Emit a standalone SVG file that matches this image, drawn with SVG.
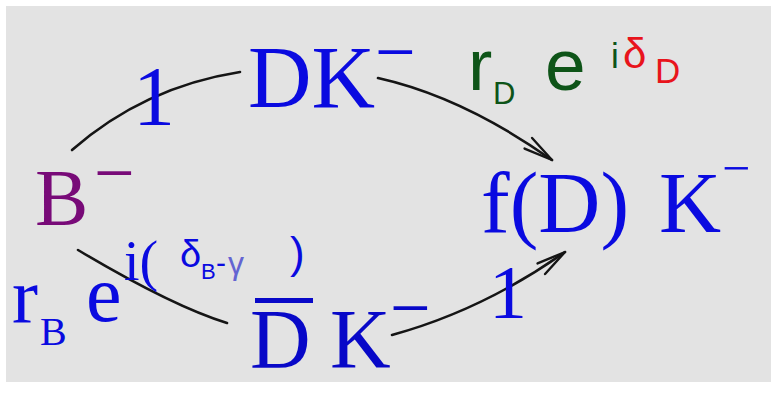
<svg xmlns="http://www.w3.org/2000/svg" width="775" height="402" viewBox="0 0 775 402">
<defs>
<style>
.serif{font-family:"Liberation Serif","Times New Roman",serif}
.sans{font-family:"Liberation Sans",Arial,sans-serif}
.blue{fill:#0a0ae0}
.conn{fill:none;stroke:#151515;stroke-width:2.6;stroke-linecap:round}
.head{fill:none;stroke:#151515;stroke-width:2.4;stroke-linecap:round;stroke-linejoin:round}
</style>
<marker id="arr" markerUnits="userSpaceOnUse" markerWidth="40" markerHeight="24" refX="32" refY="12" orient="auto" overflow="visible">
<path d="M3,5.5 L32,12 L3,18.5" class="head"/>
</marker>
</defs>
<rect x="0" y="0" width="775" height="402" fill="#ffffff"/>
<rect x="6" y="6" width="765" height="376" fill="#e3e3e3"/>

<g id="connectors">
<path class="conn" d="M72,150 Q144,87 240,72"/>
<path class="conn" d="M378,78 Q463,97 552,160" marker-end="url(#arr)"/>
<path class="conn" d="M78,250 Q172,306 227,323"/>
<path class="conn" d="M392,335 Q483,310 565,252" marker-end="url(#arr)"/>
</g>

<g id="node-B">
<text class="serif" x="35" y="225" font-size="80" fill="#780a78">B</text>
<text class="serif" x="94" y="197" font-size="72" fill="#780a78">−</text>
</g>

<g id="node-DK">
<text class="serif blue" x="248" y="107" font-size="88">DK</text>
<text class="serif blue" x="375" y="76" font-size="72">−</text>
</g>

<g id="node-DbarK">
<rect x="255" y="298" width="58" height="5" fill="#0808c8"/>
<text class="serif" x="250" y="368" font-size="84" fill="#0808c8">D</text>
<text class="serif" x="330" y="368" font-size="84" fill="#0808c8">K</text>
<text class="serif" x="390" y="332" font-size="72" fill="#0808c8">−</text>
</g>

<g id="node-fDK">
<text class="serif blue" x="481" y="232" font-size="86">f(D)</text>
<text class="serif blue" x="659" y="232" font-size="86">K</text>
<text class="serif blue" x="722" y="185" font-size="50">−</text>
</g>

<g id="label-upper-1">
<text class="serif blue" x="133" y="125" font-size="84">1</text>
</g>

<g id="label-lower-1">
<text class="serif blue" x="489" y="318" font-size="76">1</text>
</g>

<g id="label-rD">
<text class="sans" x="468" y="90" font-size="73" fill="#0e5418">r</text>
<text class="sans" x="493" y="104" font-size="31" fill="#0e5418">D</text>
<text class="sans" x="545" y="90" font-size="73" fill="#0e5418">e</text>
<text class="sans" x="611" y="68" font-size="35" fill="#0e5418">i</text>
<text class="sans" x="623" y="68" font-size="42" fill="#e8141c">δ</text>
<text class="sans" x="655" y="83" font-size="35" fill="#e8141c">D</text>
</g>

<g id="label-rB">
<text class="serif blue" x="12" y="322" font-size="78">r</text>
<text class="serif blue" x="40" y="345" font-size="40">B</text>
<text class="serif blue" x="86" y="321" font-size="80">e</text>
<text class="serif blue" x="124" y="280" font-size="56">i(</text>
<text class="sans blue" x="180" y="267" font-size="38">δ</text>
<text class="sans blue" x="201" y="279" font-size="22">B</text>
<text class="sans blue" x="216" y="273" font-size="30">-</text>
<text class="sans" x="228" y="274" font-size="32" fill="#6464d2">γ</text>
<text class="sans blue" x="290" y="268" font-size="44">)</text>
</g>
</svg>
